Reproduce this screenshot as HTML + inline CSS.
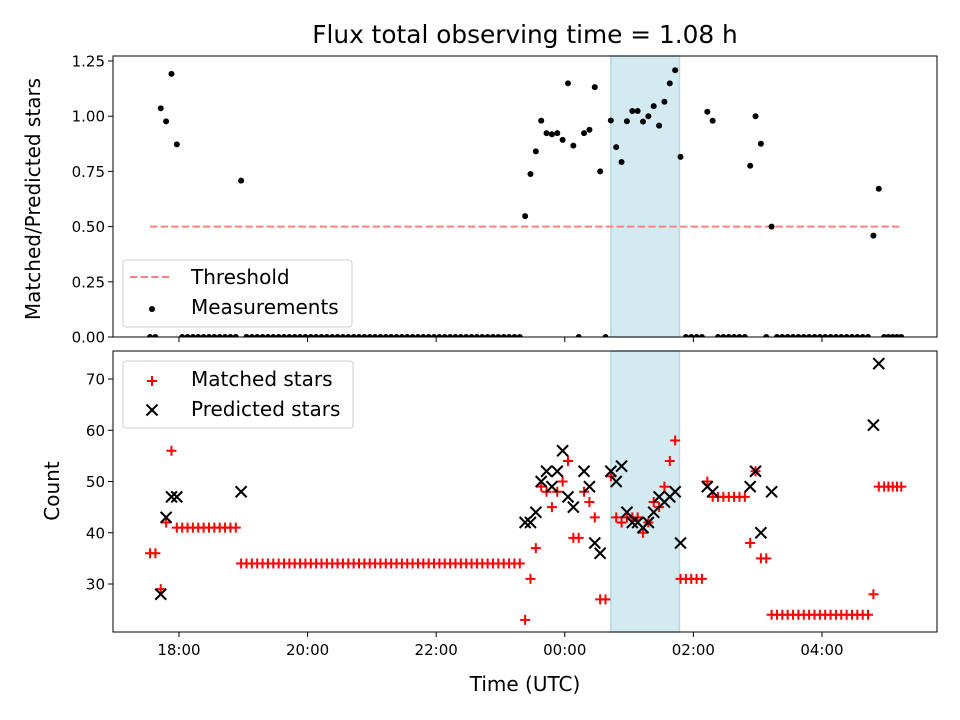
<!DOCTYPE html>
<html><head><meta charset="utf-8"><style>
html,body{margin:0;padding:0;background:#fff;}
svg{display:block;font-family:"DejaVu Sans","Liberation Sans",sans-serif;}
</style></head><body>
<svg id="chart" width="960" height="720" viewBox="0 0 960 720" xmlns="http://www.w3.org/2000/svg">
<rect x="0" y="0" width="960" height="720" fill="#fff"/>
<text x="525" y="43" font-size="24.8" text-anchor="middle">Flux total observing time = 1.08 h</text>
<g id="top"></g>
<g id="bot"></g>
</svg>
<script>
const times = [
"17:33","17:38","17:43","17:48","17:53","17:58",
"18:03","18:08","18:13","18:18","18:23","18:28","18:33","18:38","18:43","18:48","18:53","18:58",
"19:03","19:08","19:13","19:18","19:23","19:28","19:33","19:38","19:43","19:48","19:53","19:58",
"20:03","20:08","20:13","20:18","20:23","20:28","20:33","20:38","20:43","20:48","20:53","20:58",
"21:03","21:08","21:13","21:18","21:23","21:28","21:33","21:38","21:43","21:48","21:53","21:58",
"22:03","22:08","22:13","22:18","22:23","22:28","22:33","22:38","22:43","22:48","22:53","22:58",
"23:03","23:08","23:13","23:18","23:23","23:28","23:33","23:38","23:43","23:48","23:53","23:58",
"00:03","00:08","00:13","00:18","00:23","00:28","00:33","00:38","00:43","00:48","00:53","00:58",
"01:03","01:08","01:13","01:18","01:23","01:28","01:33","01:38","01:43","01:48","01:53","01:58",
"02:03","02:08","02:13","02:18","02:23","02:28","02:33","02:38","02:43","02:48","02:53","02:58",
"03:03","03:08","03:13","03:18","03:23","03:28","03:33","03:38","03:43","03:48","03:53","03:58",
"04:03","04:08","04:13","04:18","04:23","04:28","04:33","04:38","04:43","04:48","04:53","04:58",
"05:02","05:06","05:10","05:14"];
const matched = [
36,36,29,42,56,41,
41,41,41,41,41,41,41,41,41,41,41,34,
34,34,34,34,34,34,34,34,34,34,34,34,
34,34,34,34,34,34,34,34,34,34,34,34,
34,34,34,34,34,34,34,34,34,34,34,34,
34,34,34,34,34,34,34,34,34,34,34,34,
34,34,34,34,23,31,37,49,48,45,48,50,
54,39,39,48,46,43,27,27,51,43,42,43,
43,43,40,42,46,45,49,54,58,31,31,31,
31,31,50,47,47,47,47,47,47,47,38,52,
35,35,24,24,24,24,24,24,24,24,24,24,
24,24,24,24,24,24,24,24,24,28,49,49,
49,49,49,49];
const n = null;
const predicted = [
n,n,28,43,47,47,
n,n,n,n,n,n,n,n,n,n,n,48,
n,n,n,n,n,n,n,n,n,n,n,n,
n,n,n,n,n,n,n,n,n,n,n,n,
n,n,n,n,n,n,n,n,n,n,n,n,
n,n,n,n,n,n,n,n,n,n,n,n,
n,n,n,n,42,42,44,50,52,49,52,56,
47,45,n,52,49,38,36,n,52,50,53,44,
42,42,41,42,44,47,46,47,48,38,n,n,
n,n,49,48,n,n,n,n,n,n,49,52,
40,n,48,n,n,n,n,n,n,n,n,n,
n,n,n,n,n,n,n,n,n,61,73,n,
n,n,n,n];
const threshold = 0.5;
const spanStart = "00:43", spanEnd = "01:47";
const xTickLabels = ["18:00","20:00","22:00","00:00","02:00","04:00"];
const topYTicks = [0,0.25,0.5,0.75,1.0,1.25];
const botYTicks = [30,40,50,60,70];

const NS="http://www.w3.org/2000/svg";
function el(tag,attrs,parent){const e=document.createElementNS(NS,tag);for(const k in attrs)e.setAttribute(k,attrs[k]);parent.appendChild(e);return e;}
function hrs(s){let [h,m]=s.split(":").map(Number);if(h<12)h+=24;return h+m/60;}
const AX_L=113,AX_R=937,T0=16.974,PXH=64.3;
const X=t=>AX_L+(t-T0)*PXH;
const TOP={y0:56,y1:337}, BOT={y0:351,y1:632};
const Yt=v=>337-v*220.8;
const Yb=v=>379+(70-v)*5.125;
const svg=document.getElementById('chart');
const gT=document.getElementById('top'), gB=document.getElementById('bot');


const defs=el('defs',{},svg);
const c1=el('clipPath',{id:'ct'},defs);el('rect',{x:AX_L,y:TOP.y0,width:AX_R-AX_L,height:TOP.y1-TOP.y0},c1);
const c2=el('clipPath',{id:'cb'},defs);el('rect',{x:AX_L,y:BOT.y0,width:AX_R-AX_L,height:BOT.y1-BOT.y0},c2);

[[gT,TOP],[gB,BOT]].forEach(([g,P],i)=>{
  const r=el('rect',{x:X(hrs(spanStart)),y:P.y0,width:X(hrs(spanEnd))-X(hrs(spanStart)),height:P.y1-P.y0,fill:'#d4eaf1',stroke:'#b8d9e4','stroke-width':1.5},g);
  
  
});

const tx0=X(hrs(times[0])), tx1=X(hrs(times[times.length-1]));
const th=el('line',{x1:tx0,x2:tx1,y1:Yt(threshold),y2:Yt(threshold),stroke:'#ff8080','stroke-width':2,'stroke-dasharray':'7.4,3.2'},gT);


const dots=el('g',{'clip-path':'url(#ct)'},gT);
times.forEach((t,i)=>{
  const r = predicted[i]==null?0:matched[i]/predicted[i];
  const c=el('circle',{cx:X(hrs(t)),cy:Yt(r),r:3,fill:'#000'},dots);
  
  
});

const mk=el('g',{'clip-path':'url(#cb)'},gB);
times.forEach((t,i)=>{
  const x=X(hrs(t)), y=Yb(matched[i]);
  const p=el('path',{d:`M${x-5},${y}H${x+5}M${x},${y-5}V${y+5}`,stroke:'#f00','stroke-width':2,fill:'none'},mk);
  
  
});
times.forEach((t,i)=>{
  if(predicted[i]==null)return;
  const x=X(hrs(t)), y=Yb(predicted[i]);
  const p=el('path',{d:`M${x-5.5},${y-5.5}L${x+5.5},${y+5.5}M${x-5.5},${y+5.5}L${x+5.5},${y-5.5}`,stroke:'#000','stroke-width':2,fill:'none'},mk);
  
  
});

[[gT,TOP,topYTicks,Yt,v=>v.toFixed(2)],[gB,BOT,botYTicks,Yb,v=>String(v)]].forEach(([g,P,ticks,Y,fmt],pi)=>{
  const f=el('rect',{x:AX_L,y:P.y0,width:AX_R-AX_L,height:P.y1-P.y0,fill:'none',stroke:'#000','stroke-width':1},g);
  
  
  ticks.forEach(v=>{
    const y=Y(v);
    el('line',{x1:AX_L-5,x2:AX_L,y1:y,y2:y,stroke:'#000','stroke-width':1},g);
    const tl=el('text',{x:AX_L-8,y:y+5.5,'font-size':15,'text-anchor':'end'},g);
    tl.textContent=fmt(v);
    
    
  });
  xTickLabels.forEach(s=>{
    const x=X(hrs(s));
    el('line',{x1:x,x2:x,y1:P.y1,y2:P.y1+5,stroke:'#000','stroke-width':1},g);
    if(pi===1){
      const tl=el('text',{x:x,y:P.y1+23,'font-size':15,'text-anchor':'middle'},g);
      tl.textContent=s;
      
      
    }
  });
});
const yl1=el('text',{x:0,y:0,'font-size':20,'text-anchor':'middle',transform:'translate(40,199) rotate(-90)'},gT);
yl1.textContent='Matched/Predicted stars';


const yl2=el('text',{x:0,y:0,'font-size':20,'text-anchor':'middle',transform:'translate(59,491) rotate(-90)'},gB);
yl2.textContent='Count';


const xl=el('text',{x:525,y:691,'font-size':20,'text-anchor':'middle'},gB);
xl.textContent='Time (UTC)';



const lg1=el('g',{},gT);


el('rect',{x:123,y:260,width:229,height:67,rx:3,fill:'#fff','fill-opacity':0.8,stroke:'#ccc'},lg1);
el('line',{x1:130,x2:171,y1:277,y2:277,stroke:'#ff8080','stroke-width':2,'stroke-dasharray':'7.4,3.2'},lg1);
let t1=el('text',{x:191,y:284,'font-size':20},lg1);t1.textContent='Threshold';


el('circle',{cx:152,cy:309,r:3,fill:'#000'},lg1);
let t2=el('text',{x:191,y:314,'font-size':20},lg1);t2.textContent='Measurements';



const lg2=el('g',{},gB);


el('rect',{x:123,y:361,width:230,height:67,rx:3,fill:'#fff','fill-opacity':0.8,stroke:'#ccc'},lg2);
el('path',{d:'M147,381H157M152,376V386',stroke:'#f00','stroke-width':2},lg2);
let t3=el('text',{x:191,y:386,'font-size':20},lg2);t3.textContent='Matched stars';


el('path',{d:'M146.5,404.5L157.5,415.5M146.5,415.5L157.5,404.5',stroke:'#000','stroke-width':2},lg2);
let t4=el('text',{x:191,y:416,'font-size':20},lg2);t4.textContent='Predicted stars';


</script>
</body></html>
